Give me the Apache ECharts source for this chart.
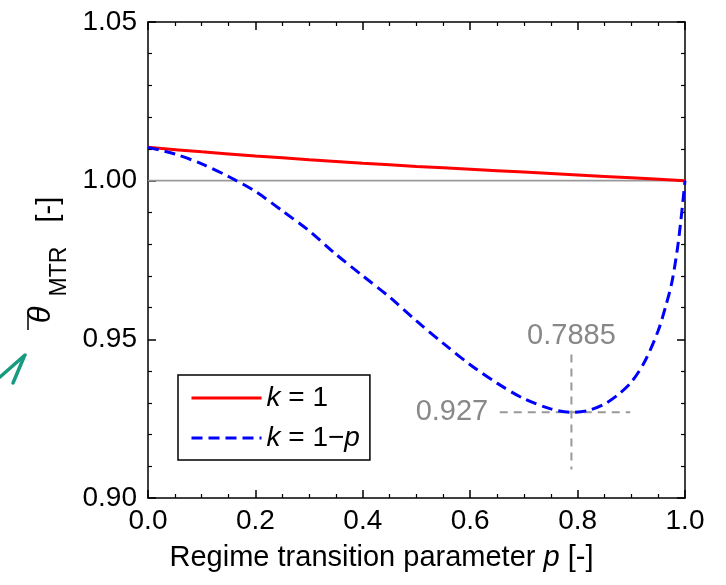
<!DOCTYPE html>
<html>
<head>
<meta charset="utf-8">
<script src="https://cdn.jsdelivr.net/npm/echarts@6/dist/echarts.min.js"></script>
<style>
  html, body { margin: 0; padding: 0; background: #fff; }
  #chart { width: 726px; height: 585px; }
</style>
</head>
<body>
<div id="chart"></div>
<script>
// k = 1 (red, solid)
var pRed = [0, 0.1, 0.2, 0.3, 0.4, 0.5, 0.6, 0.7, 0.8, 0.9, 1.0]
var kOne = [1.0105, 1.0091, 1.0078, 1.0066, 1.0055, 1.0045, 1.0036, 1.0027, 1.0018, 1.0009, 1.0000]

// k = 1-p (blue, dashed)
var pBlue = [0, 0.05, 0.1, 0.15, 0.2, 0.25, 0.3, 0.35, 0.4, 0.45, 0.5, 0.55, 0.6, 0.65, 0.7, 0.75,
  0.7885, 0.82, 0.85, 0.875, 0.9, 0.925, 0.95, 0.965, 0.975, 0.985, 0.992, 0.997, 1.0]
var kMinusP = [1.0105, 1.0084, 1.0053, 1.0013, 0.9966, 0.9905, 0.9842, 0.9768, 0.9700, 0.9633, 0.9558, 0.9487, 0.9420, 0.9362, 0.9313, 0.9281,
  0.9270, 0.9276, 0.9296, 0.9325, 0.9365, 0.9430, 0.9527, 0.9610, 0.9675, 0.9775, 0.9870, 0.9950, 1.0000]

// reference line at 1.00 and the minimum markers
var refLine = [[0, 1.0], [1, 1.0]]
var minP = 0.7885
var minVal = 0.927
var vGuide = [[minP, 0.9452], [minP, 0.9090]]
var hGuide = [[0.655, minVal], [0.898, minVal]]

var xTicks = [0, 0.2, 0.4, 0.6, 0.8, 1.0]
var yTicks = [0.90, 0.95, 1.00, 1.05]

var FONT = "'Liberation Sans', Arial, sans-serif"

function pairs(xs, ys) {
  return xs.map(function(x, i) { return [x, ys[i]] })
}

var chart = echarts.init(document.getElementById('chart'), null, { renderer: 'canvas' })

var axisCommon = {
  axisLine: { show: true, onZero: false, lineStyle: { color: '#000', width: 1.5 }},
  axisTick: { show: true, inside: true, length: 8, lineStyle: { color: '#000', width: 1.5 }},
  splitLine: { show: false }
}
var minorX = { show: true, splitNumber: 4, length: 4, lineStyle: { color: '#000', width: 1.2 }}
var minorY = { show: true, splitNumber: 5, length: 4, lineStyle: { color: '#000', width: 1.2 }}

var option = {
  backgroundColor: '#fff',
  animation: false,
  grid: { left: 148, right: 41, top: 22, bottom: 87 },
  xAxis: [
    Object.assign({
      type: 'value', min: xTicks[0], max: xTicks[xTicks.length - 1], interval: 0.2,
      name: 'Regime transition parameter {i|p} [-]',
      nameLocation: 'middle', nameGap: 45,
      nameTextStyle: { fontFamily: FONT, fontSize: 29, color: '#000', padding: [0, 70, 0, 0],
        rich: { i: { fontStyle: 'italic', fontFamily: FONT, fontSize: 29, color: '#000' }}},
      axisLabel: { fontFamily: FONT, fontSize: 28, color: '#000', margin: 9,
        formatter: function(v) { return v.toFixed(1) } },
      minorTick: minorX
    }, axisCommon),
    Object.assign({
      type: 'value', position: 'top', min: 0, max: 1, interval: 0.2,
      axisLabel: { show: false }, minorTick: minorX
    }, axisCommon)
  ],
  yAxis: [
    Object.assign({
      type: 'value', min: yTicks[0], max: yTicks[yTicks.length - 1], interval: 0.05,
      name: '{t|\u03b8}{s|MTR}{b|[-]}',
      nameLocation: 'middle', nameRotate: 90, nameGap: 76,
      nameTextStyle: { fontFamily: FONT, color: '#000',
        rich: {
          t: { fontFamily: FONT, fontStyle: 'italic', fontSize: 31, lineHeight: 26, verticalAlign: 'top', color: '#000' },
          s: { fontFamily: FONT, fontSize: 23, lineHeight: 23, verticalAlign: 'bottom', padding: [0, 24, 0, 10], color: '#000' },
          b: { fontFamily: FONT, fontSize: 29, lineHeight: 46, verticalAlign: 'middle', color: '#000' }
        }},
      axisLabel: { fontFamily: FONT, fontSize: 28, color: '#000', margin: 11,
        formatter: function(v) { return v.toFixed(2) } },
      minorTick: minorY
    }, axisCommon),
    Object.assign({
      type: 'value', position: 'right', min: 0.90, max: 1.05, interval: 0.05,
      axisLabel: { show: false }, minorTick: minorY
    }, axisCommon)
  ],
  legend: {
    data: ['k1', 'kp'],
    orient: 'vertical',
    left: 178, top: 375,
    borderColor: '#000', borderWidth: 1.5, borderRadius: 0,
    padding: [8, 10, 7, 12],
    itemWidth: 70, itemHeight: 14, itemGap: 10, itemTextGap: 8,
    itemStyle: { opacity: 0 },
    lineStyle: { width: 3 },
    textStyle: { fontFamily: FONT, fontSize: 28, color: '#000', lineHeight: 30,
      rich: { i: { fontStyle: 'italic', fontFamily: FONT, fontSize: 28, color: '#000', lineHeight: 30 }}},
    formatter: function(name) {
      return name === 'k1' ? '{i|k} = 1' : '{i|k} = 1\u2212{i|p}'
    }
  },
  series: [
    {
      name: 'ref', type: 'line', silent: true, symbol: 'none',
      data: refLine,
      lineStyle: { color: '#999', width: 1.8 }, z: 1
    },
    {
      name: 'k1', type: 'line', symbol: 'none',
      data: pairs(pRed, kOne), smooth: 0.3,
      color: '#ff0000',
      lineStyle: { color: '#ff0000', width: 3 }, z: 3
    },
    {
      name: 'kp', type: 'line', symbol: 'none',
      data: pairs(pBlue, kMinusP), smooth: 0.3,
      color: '#0000ff',
      lineStyle: { color: '#0000ff', width: 3, type: [11, 6] }, z: 4
    },
    {
      name: 'vguide', type: 'line', silent: true,
      symbol: 'circle', symbolSize: 1, itemStyle: { color: 'rgba(0,0,0,0)' },
      lineStyle: { color: '#999', width: 2, type: [8, 6] }, z: 2,
      data: [
        { value: vGuide[0], label: { show: true, position: 'top', distance: 4, formatter: String(minP),
          fontFamily: FONT, fontSize: 29, color: '#888' }},
        vGuide[1]
      ]
    },
    {
      name: 'hguide', type: 'line', silent: true,
      symbol: 'circle', symbolSize: 1, itemStyle: { color: 'rgba(0,0,0,0)' },
      lineStyle: { color: '#999', width: 2, type: [8, 6] }, z: 2,
      data: [
        { value: hGuide[0], label: { show: true, position: 'left', distance: 11, formatter: String(minVal),
          fontFamily: FONT, fontSize: 29, color: '#888' }},
        hGuide[1]
      ]
    }
  ],
  graphic: [
    // bar over theta
    { type: 'line', shape: { x1: 28, y1: 330, x2: 28, y2: 312 }, style: { stroke: '#000', lineWidth: 1.5 }},
    // teal arrow at the left edge
    { type: 'polyline', shape: { points: [[0, 377], [25, 355]] }, style: { stroke: '#179a80', lineWidth: 3.5, lineCap: 'round' }},
    { type: 'polyline', shape: { points: [[13, 383], [24, 357]] }, style: { stroke: '#179a80', lineWidth: 3.5, lineCap: 'round' }}
  ]
}

chart.setOption(option)
</script>
</body>
</html>
